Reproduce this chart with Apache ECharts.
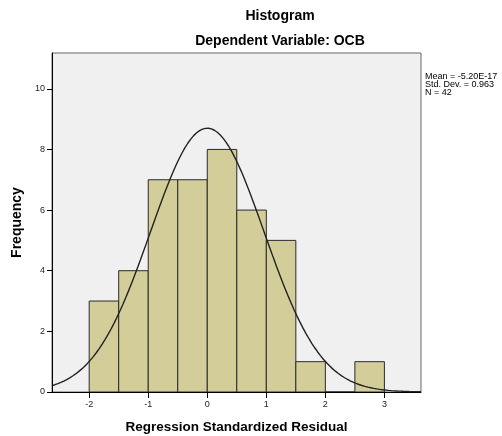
<!DOCTYPE html>
<html>
<head>
<meta charset="utf-8">
<script src="https://cdn.jsdelivr.net/npm/echarts@6/dist/echarts.min.js"></script>
<style>html,body{margin:0;padding:0;background:#fff}#c{width:502px;height:436px}</style>
</head>
<body>
<div id="c"></div>
<script>
// Histogram bins (lower edges), bin width and frequencies
const binStarts = [-2, -1.5, -1, -0.5, 0, 0.5, 1, 1.5, 2, 2.5];
const binWidth = 0.5;
const counts = [3, 4, 7, 7, 8, 6, 5, 1, 0, 1];
// Fit statistics shown in the chart
const meanVal = -5.20e-17;
const sdVal = 0.963;
const nVal = 42;
const statLines = ['Mean = -5.20E-17', 'Std. Dev. = 0.963', 'N = 42'];
// Tick labels
const xTicks = [-2, -1, 0, 1, 2, 3];
const yTicks = [0, 2, 4, 6, 8, 10];
const xMin = -2.63, xMax = 3.62, yMax = 11.18;

const barData = binStarts.map((s, i) => [s, s + binWidth, counts[i]]);
// Normal curve scaled to histogram (N * bin width * density)
const curve = [];
for (let k = 0; k <= 125; k++) {
  const x = xMin + (xMax - xMin) * k / 125;
  const z = (x - meanVal) / sdVal;
  curve.push([x, nVal * binWidth * Math.exp(-0.5 * z * z) / (sdVal * Math.sqrt(2 * Math.PI))]);
}

const FONT = '"Liberation Sans", Arial, sans-serif';
const chart = echarts.init(document.getElementById('c'), null, {renderer: 'canvas'});
chart.setOption({
  animation: false,
  grid: {left: 52, right: 81, top: 53, bottom: 44, show: true, backgroundColor: '#f0f0f0', borderColor: '#666', borderWidth: 1, outerBoundsMode: 'none', containLabel: false},
  xAxis: {
    type: 'value', min: xMin, max: xMax,
    name: 'Regression Standardized Residual', nameLocation: 'middle', nameGap: 28,
    nameTextStyle: {fontFamily: FONT, fontWeight: 'bold', fontSize: 13.5, color: '#000'},
    axisLine: {show: true, onZero: false, lineStyle: {color: '#000', width: 1}},
    axisTick: {show: true, inside: false, length: 6, customValues: xTicks, lineStyle: {color: '#000', width: 1}},
    axisLabel: {customValues: xTicks, fontFamily: FONT, fontSize: 9, color: '#222', margin: 8},
    splitLine: {show: false}
  },
  yAxis: {
    type: 'value', min: 0, max: yMax,
    name: 'Frequency', nameLocation: 'middle', nameGap: 26,
    nameTextStyle: {fontFamily: FONT, fontWeight: 'bold', fontSize: 14, color: '#000'},
    axisLine: {show: true, onZero: false, lineStyle: {color: '#000', width: 1}},
    axisTick: {show: true, inside: false, length: 5, customValues: yTicks, lineStyle: {color: '#000', width: 1}},
    axisLabel: {customValues: yTicks, fontFamily: FONT, fontSize: 9, color: '#222', margin: 7},
    splitLine: {show: false}
  },
  graphic: [
    {type: 'text', style: {text: 'Histogram', x: 280, y: 16, textAlign: 'center', textVerticalAlign: 'middle', font: 'bold 14px ' + FONT, fill: '#000'}},
    {type: 'text', style: {text: 'Dependent Variable: OCB', x: 280, y: 41, textAlign: 'center', textVerticalAlign: 'middle', font: 'bold 14px ' + FONT, fill: '#000'}},
    ...statLines.map((t, i) => ({type: 'text', style: {text: t, x: 425, y: 77 + i * 8, textAlign: 'left', textVerticalAlign: 'middle', font: '9px ' + FONT, fill: '#000'}}))
  ],
  series: [
    {
      type: 'custom', data: barData, clip: true,
      encode: {x: [0, 1], y: 2},
      renderItem: function (params, api) {
        const p0 = api.coord([api.value(0), 0]);
        const p1 = api.coord([api.value(1), api.value(2)]);
        return {type: 'rect', shape: {x: p0[0], y: p1[1], width: p1[0] - p0[0], height: p0[1] - p1[1]},
          style: {fill: '#d3ce99', stroke: '#2a2a2a', lineWidth: 1}};
      },
      z: 2
    },
    {
      type: 'line', data: curve, showSymbol: false, smooth: false, clip: true,
      lineStyle: {color: '#222', width: 1.4}, z: 3
    }
  ]
});
</script>
</body>
</html>
